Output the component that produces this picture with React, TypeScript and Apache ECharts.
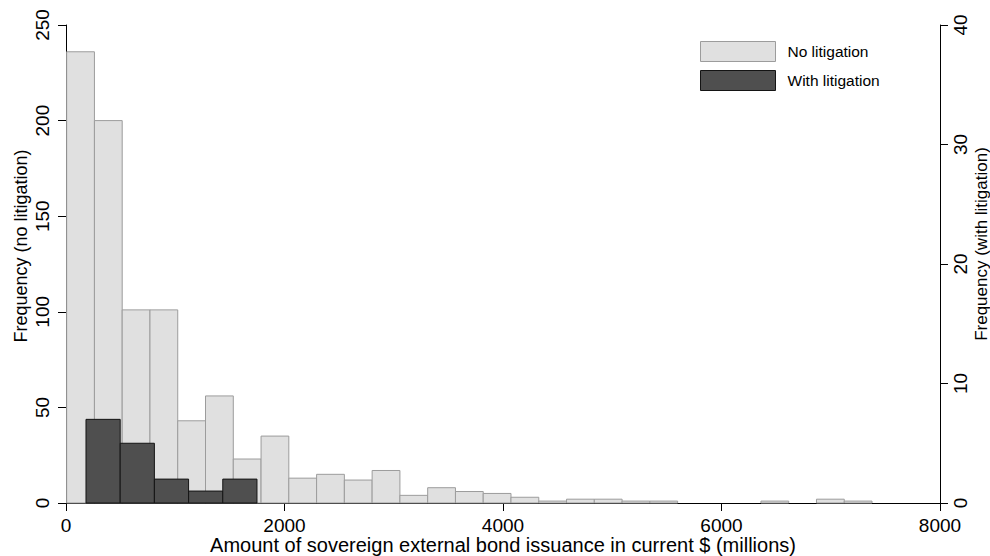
import React, { useEffect, useRef } from "react";
import * as echarts from "echarts";

// Histogram: no litigation (left axis)
const noLitStart = 6;
const noLitBinWidth = 254.2;
const noLitCounts = [236, 200, 101, 101, 43, 56, 23, 35, 13, 15, 12, 17, 4, 8, 6, 5, 3, 1, 2, 2, 1, 1, 0, 0, 0, 1, 0, 2, 1];

// Histogram: with litigation (right axis)
const litStart = 183;
const litBinWidth = 313;
const litCounts = [7, 5, 2, 1, 2];

const xTicks = { min: 0, max: 8000, interval: 2000 };
const yLeftTicks = { min: 0, max: 250, interval: 50 };
const yRightTicks = { min: 0, max: 40, interval: 10 };

const FONT = "'Liberation Sans', Arial, Helvetica, sans-serif";

function toBins(start: number, width: number, counts: number[]) {
  return counts.map((c, i) => [start + i * width, start + (i + 1) * width, c]);
}

function makeRender(fill: string, stroke: string) {
  return (params: any, api: any) => {
    const s = api.value(0);
    const e = api.value(1);
    const c = api.value(2);
    if (!c) return null;
    const p0 = api.coord([s, 0]);
    const p1 = api.coord([e, c]);
    return {
      type: "rect",
      shape: { x: p0[0], y: p1[1], width: p1[0] - p0[0], height: p0[1] - p1[1] },
      style: { fill, stroke, lineWidth: 1 },
    };
  };
}

const plain = (v: number) => String(v);

export default function App() {
  const ref = useRef<HTMLDivElement>(null);
  useEffect(() => {
    if (!ref.current) return;
    const chart = echarts.init(ref.current, null, { renderer: "svg" });
    const lightFill = "#e0e0e0";
    const lightStroke = "#9c9c9c";
    const darkFill = "#4f4f4f";
    const darkStroke = "#141414";
    const axisCommon = {
      axisLine: { show: true, lineStyle: { color: "#000", width: 1 } },
      axisTick: { show: true, length: 8, lineStyle: { color: "#000" } },
      splitLine: { show: false },
      nameMoveOverlap: false,
    };
    chart.setOption({
      animation: false,
      backgroundColor: "#fff",
      grid: { left: 66, right: 50, top: 25, bottom: 53, containLabel: false, outerBoundsMode: "none" },
      legend: {
        orient: "vertical",
        left: 700,
        top: 41,
        padding: 0,
        itemWidth: 75,
        itemHeight: 20,
        itemGap: 8,
        icon: "rect",
        textStyle: { fontSize: 15.5, color: "#000", fontFamily: FONT, padding: [0, 0, 0, 7] },
        data: [
          { name: "No litigation", itemStyle: { color: lightFill, borderColor: lightStroke, borderWidth: 1 } },
          { name: "With litigation", itemStyle: { color: darkFill, borderColor: darkStroke, borderWidth: 1 } },
        ],
      },
      xAxis: {
        type: "value",
        ...xTicks,
        ...axisCommon,
        axisLabel: { fontSize: 19, color: "#000", fontFamily: FONT, margin: 13, formatter: plain },
        name: "Amount of sovereign external bond issuance in current $ (millions)",
        nameLocation: "middle",
        nameGap: 32,
        nameTextStyle: { fontSize: 20, color: "#000", fontFamily: FONT },
      },
      yAxis: [
        {
          type: "value",
          position: "left",
          ...yLeftTicks,
          ...axisCommon,
          axisLabel: { fontSize: 19, color: "#000", fontFamily: FONT, rotate: 90, margin: 14, formatter: plain },
          name: "Frequency (no litigation)",
          nameLocation: "middle",
          nameGap: 36,
          nameTextStyle: { fontSize: 18, color: "#000", fontFamily: FONT, padding: [0, 0, 0, 36] },
        },
        {
          type: "value",
          position: "right",
          ...yRightTicks,
          ...axisCommon,
          axisLabel: { fontSize: 19, color: "#000", fontFamily: FONT, rotate: 90, margin: 11, formatter: plain },
          name: "Frequency (with litigation)",
          nameLocation: "middle",
          nameGap: 33,
          nameTextStyle: { fontSize: 17, color: "#000", fontFamily: FONT, padding: [0, 0, 0, 40] },
        },
      ],
      series: [
        {
          name: "No litigation",
          type: "custom",
          xAxisIndex: 0,
          yAxisIndex: 0,
          itemStyle: { color: lightFill, borderColor: lightStroke },
          encode: { x: [0, 1], y: 2 },
          data: toBins(noLitStart, noLitBinWidth, noLitCounts),
          renderItem: makeRender(lightFill, lightStroke),
        },
        {
          name: "With litigation",
          type: "custom",
          xAxisIndex: 0,
          yAxisIndex: 1,
          itemStyle: { color: darkFill, borderColor: darkStroke },
          encode: { x: [0, 1], y: 2 },
          data: toBins(litStart, litBinWidth, litCounts),
          renderItem: makeRender(darkFill, darkStroke),
        },
      ],
    });
    return () => chart.dispose();
  }, []);
  return (
    <div
      ref={ref}
      style={{ position: "fixed", left: 0, top: 0, width: 990, height: 556, background: "#fff" }}
    />
  );
}
